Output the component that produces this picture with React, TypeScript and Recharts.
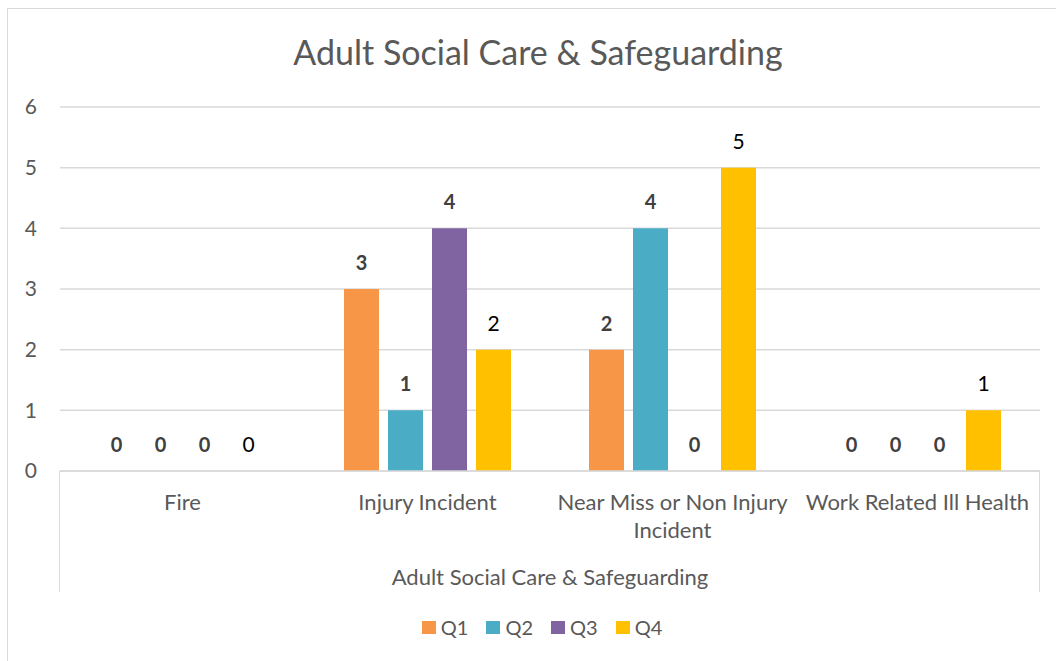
import { Bar, BarChart, CartesianGrid, LabelList, XAxis, YAxis } from "recharts";

const categories = ["Fire", "Injury Incident", "Near Miss or Non Injury Incident", "Work Related Ill Health"];
const q1 = [0, 3, 2, 0];
const q2 = [0, 1, 4, 0];
const q3 = [0, 4, 0, 0];
const q4 = [0, 2, 5, 1];
const seriesNames = ["Q1", "Q2", "Q3", "Q4"];
const seriesColors = ["#F79646", "#4BACC6", "#8064A2", "#FFC000"];
const yTicks = [0, 1, 2, 3, 4, 5, 6];
const title = "Adult Social Care & Safeguarding";
const groupLabel = "Adult Social Care & Safeguarding";

const FONT = "Lato, 'Open Sans', sans-serif";
const GREY = "#595959";
const LINE = "#D9D9D9";

const data = categories.map((name, i) => ({ name, q1: q1[i], q2: q2[i], q3: q3[i], q4: q4[i] }));
const keys = ["q1", "q2", "q3", "q4"];

// greedy word wrap using canvas text metrics, like Excel does for long category names
function wrap(text: string, maxWidth: number, font: string) {
  const ctx = document.createElement("canvas").getContext("2d");
  if (!ctx) return [text];
  ctx.font = font;
  const lines: string[] = [];
  let cur = "";
  for (const w of text.split(" ")) {
    const next = cur ? `${cur} ${w}` : w;
    if (cur && ctx.measureText(next).width > maxWidth) {
      lines.push(cur);
      cur = w;
    } else {
      cur = next;
    }
  }
  if (cur) lines.push(cur);
  return lines;
}

function CategoryTick({ x, y, payload }: any) {
  const lines = wrap(String(payload.value), 238, `22px Lato`);
  return (
    <text x={x} y={y + 31} textAnchor="middle" fontSize={22} fontFamily={FONT} fill={GREY}>
      {lines.map((l, i) => (
        <tspan key={i} x={x} dy={i === 0 ? 0 : 28}>{l}</tspan>
      ))}
    </text>
  );
}

function valueLabel(bold: boolean) {
  return (p: any) => {
    const cx = Number(p.x) + Number(p.width) / 2;
    const top = Math.min(Number(p.y), Number(p.y) + Number(p.height));
    return (
      <text
        x={cx}
        y={top - 19}
        textAnchor="middle"
        fontSize={bold ? 20 : 21}
        fontFamily={FONT}
        fontWeight={bold ? 700 : 400}
        fill={bold ? "#404040" : "#000000"}
      >
        {String(p.value)}
      </text>
    );
  };
}

export default function App() {
  return (
    <div style={{ position: "absolute", left: 0, top: 0, width: 1056, height: 661, background: "#fff", fontFamily: FONT }}>
      {/* chart frame */}
      <div style={{ position: "absolute", left: 7, top: 8, width: 1100, height: 700, borderLeft: `1px solid ${LINE}`, borderTop: `1px solid ${LINE}` }} />
      <div style={{ position: "absolute", left: 0, width: 1076, top: 31, textAlign: "center", fontSize: 34, color: GREY }}>
        {title}
      </div>

      <div style={{ position: "absolute", left: 0, top: 0 }}>
        <BarChart
          width={1056}
          height={661}
          data={data}
          margin={{ top: 107, right: 16, left: 0, bottom: 70 }}
          barSize={35}
          barGap={9}
        >
          <CartesianGrid vertical={false} stroke={LINE} strokeWidth={1.5} />
          <XAxis
            dataKey="name"
            axisLine={{ stroke: LINE, strokeWidth: 1.5 }}
            tickLine={false}
            interval={0}
            height={120}
            tick={<CategoryTick />}
          />
          <YAxis
            domain={[0, 6]}
            ticks={yTicks}
            width={60}
            axisLine={false}
            tickLine={false}
            tickMargin={17}
            tick={{ fill: GREY, fontSize: 21, fontFamily: FONT }}
          />
          {keys.map((k, i) => (
            // tiny minPointSize keeps zero-value bars (and their "0" labels) in the chart
            <Bar key={k} dataKey={k} name={seriesNames[i]} fill={seriesColors[i]} minPointSize={0.01} isAnimationActive={false}>
              <LabelList dataKey={k} content={valueLabel(i < 3)} />
            </Bar>
          ))}
        </BarChart>
      </div>

      {/* outer level of the multi-level category axis */}
      <div style={{ position: "absolute", left: 59, top: 471, width: 0, height: 121, borderLeft: `1.5px solid ${LINE}` }} />
      <div style={{ position: "absolute", left: 1039, top: 471, width: 0, height: 121, borderLeft: `1.5px solid ${LINE}` }} />
      <div style={{ position: "absolute", left: 60, width: 980, top: 563, textAlign: "center", fontSize: 22, color: GREY }}>
        {groupLabel}
      </div>

      {/* legend */}
      <div style={{ position: "absolute", left: 0, width: 1084, top: 615, display: "flex", justifyContent: "center", gap: 18, fontSize: 20, color: GREY }}>
        {seriesNames.map((s, i) => (
          <div key={s} style={{ display: "flex", alignItems: "center", gap: 5 }}>
            <span style={{ display: "inline-block", width: 14, height: 13, background: seriesColors[i] }} />
            <span>{s}</span>
          </div>
        ))}
      </div>
    </div>
  );
}
